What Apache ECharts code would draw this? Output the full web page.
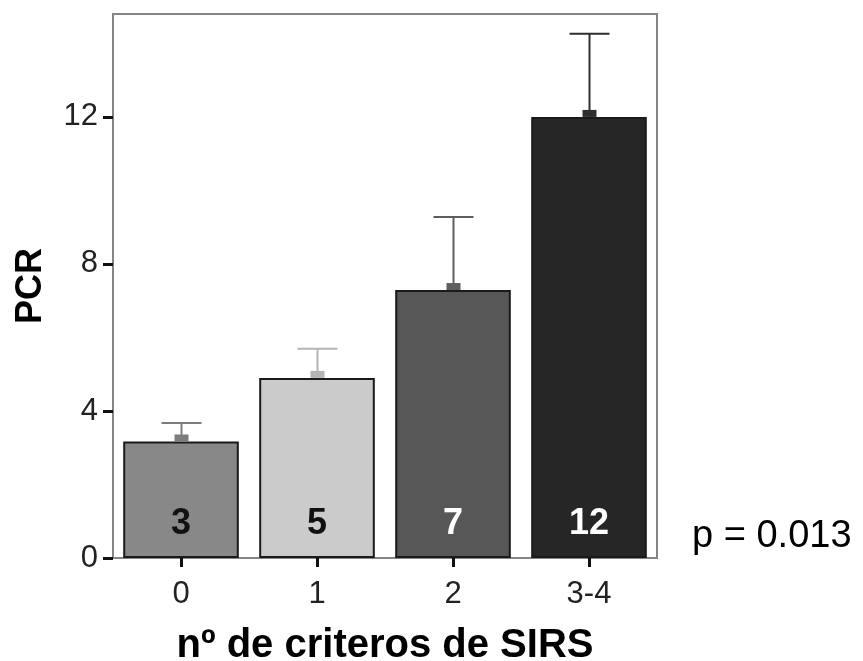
<!DOCTYPE html>
<html>
<head>
<meta charset="utf-8">
<script src="https://cdn.jsdelivr.net/npm/echarts@6/dist/echarts.min.js"></script>
<style>html,body{margin:0;padding:0;background:#fff}#c{width:863px;height:661px}</style>
</head>
<body>
<div id="c"></div>
<script>
var categories = ['0', '1', '2', '3-4'];
var means = [3.17, 4.90, 7.29, 12.0];
var upperErr = [3.67, 5.69, 9.28, 14.26];
var barLabels = ['3', '5', '7', '12'];
var yTicks = [0, 4, 8, 12];
var barColors = ['#888888', '#cbcbcb', '#575757', '#262626'];
var errColors = ['#7c7c7c', '#b4b4b4', '#5e5e5e', '#2e2e2e'];
var labelColors = ['#111111', '#111111', '#ffffff', '#ffffff'];

var chart = echarts.init(document.getElementById('c'), null, {renderer: 'canvas'});
var font = 'Liberation Sans, Arial, sans-serif';

var barData = means.map(function (v, i) {
  return {
    value: v,
    itemStyle: {color: barColors[i]},
    label: {color: labelColors[i], formatter: barLabels[i]}
  };
});
var errData = means.map(function (v, i) { return [i, v, upperErr[i]]; });

chart.setOption({
  animation: false,
  backgroundColor: '#ffffff',
  grid: {left: 113, top: 14, right: 206, bottom: 103, containLabel: false, outerBoundsMode: 'none',
    show: true, borderColor: '#858585', borderWidth: 2, backgroundColor: 'transparent'},
  xAxis: {
    type: 'category',
    data: categories,
    axisLine: {show: false},
    axisTick: {show: true, alignWithLabel: true, length: 9, lineStyle: {color: '#111', width: 3}},
    axisLabel: {color: '#222', fontSize: 31, fontFamily: font, margin: 21},
    name: 'nº de criteros de SIRS',
    nameLocation: 'middle',
    nameGap: 68,
    nameTextStyle: {color: '#000', fontSize: 40, fontWeight: 'bold', fontFamily: font}
  },
  yAxis: {
    type: 'value',
    min: 0,
    max: 14.8,
    interval: 4,
    splitLine: {show: false},
    axisLine: {show: false},
    axisTick: {show: true, length: 10, lineStyle: {color: '#111', width: 3}},
    axisLabel: {color: '#222', fontSize: 31, fontFamily: font, margin: 15, showMaxLabel: false,
      formatter: function (v) { return yTicks.indexOf(v) >= 0 ? String(v) : ''; }},
    name: 'PCR',
    nameLocation: 'middle',
    nameGap: 64,
    nameRotate: 90,
    nameTextStyle: {color: '#000', fontSize: 36, fontWeight: 'bold', fontFamily: font}
  },
  series: [
    {
      type: 'bar',
      data: barData,
      barCategoryGap: '15%',
      itemStyle: {borderColor: '#1a1a1a', borderWidth: 2},
      label: {show: true, position: 'insideBottom', distance: 16, fontSize: 36, fontWeight: 'bold', fontFamily: font}
    },
    {
      type: 'custom',
      data: errData,
      z: 5,
      renderItem: function (params, api) {
        var i = api.value(0);
        var top = api.coord([i, api.value(2)]);
        var base = api.coord([i, api.value(1)]);
        var c = errColors[i];
        var x = Math.round(top[0]) + 0.5;
        return {
          type: 'group',
          children: [
            {type: 'line', shape: {x1: x, y1: base[1], x2: x, y2: top[1]}, style: {stroke: c, lineWidth: 2}},
            {type: 'line', shape: {x1: x - 20, y1: top[1], x2: x + 20, y2: top[1]}, style: {stroke: c, lineWidth: 2}},
            {type: 'rect', shape: {x: x - 7, y: base[1] - 7, width: 14, height: 7}, style: {fill: c}}
          ]
        };
      }
    }
  ],
  graphic: [
    {type: 'text', left: 692, top: 518, style: {text: 'p = 0.013', fontSize: 38, fontFamily: font, fill: '#000'}}
  ]
});
</script>
</body>
</html>
